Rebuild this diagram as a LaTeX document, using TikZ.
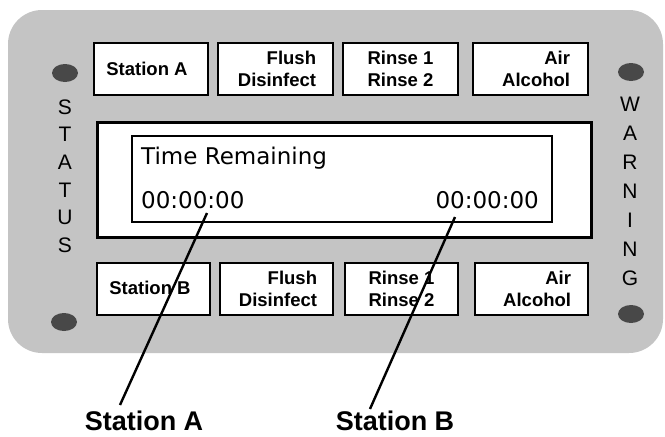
\documentclass[tikz,border=0pt]{standalone}
\usepackage{fontspec}
\setmainfont{Liberation Sans}
\newfontfamily\dvfont{DejaVu Sans}
\usetikzlibrary{shapes.geometric}
\definecolor{panelgray}{RGB}{196,196,196}
\definecolor{dotgray}{RGB}{72,72,72}
\begin{document}
\begin{tikzpicture}[x=1pt,y=-1pt,
  btn/.style={draw, line width=2.5pt, fill=white, minimum height=52pt, inner sep=0pt},
  btxt/.style={font=\fontsize{18.5}{22}\selectfont\bfseries, align=right, inner sep=0pt},
  ctxt/.style={font=\fontsize{18.5}{22}\selectfont\bfseries, align=center, inner sep=0pt},
  sideletter/.style={font=\fontsize{21}{21}\selectfont, inner sep=0pt},
  ledlamp/.style={ellipse, fill=dotgray, minimum width=26pt, minimum height=18pt, inner sep=0pt},
  lcd/.style={font=\dvfont\fontsize{23}{23}\selectfont, inner sep=0pt},
  caption/.style={font=\fontsize{27}{27}\selectfont\bfseries, inner sep=0pt},
  leader/.style={line width=2.4pt}]
\useasboundingbox (0,0) rectangle (665,437);
\fill[white] (0,0) rectangle (665,437);
% panel
\path[fill=panelgray, rounded corners=34pt] (8,10) rectangle (663,353);
% lamps
\node[ledlamp] (lt) at (65,73) {};
\node[ledlamp] (lb) at (64,322) {};
\node[ledlamp] (rt) at (631,72) {};
\node[ledlamp] (rb) at (631,314) {};
% side letters
\foreach \l [count=\i from 0] in {S,T,A,T,U,S}
  \node[sideletter] (st\i) at (65,{107+27.6*\i}) {\l};
\foreach \l [count=\i from 0] in {W,A,R,N,I,N,G}
  \node[sideletter] (wn\i) at (630,{104+29*\i}) {\l};
% top buttons
\node[btn, minimum width=114pt] (tA) at (151,69) {};
\node[btn, minimum width=115pt] (tF) at (275.5,69) {};
\node[btn, minimum width=115pt] (tR) at (400.5,69) {};
\node[btn, minimum width=115pt] (tW) at (530.5,69) {};
\node[ctxt] (tAt) at (147,69) {Station A};
\node[btxt, anchor=east] (tFt) at ([xshift=-18pt]tF.east) {Flush\\Disinfect};
\node[ctxt] (tRt) at (tR.center) {Rinse 1\\Rinse 2};
\node[btxt, anchor=east] (tWt) at ([xshift=-19pt]tW.east) {Air\\Alcohol};
% bottom buttons
\node[btn, minimum width=113pt] (bA) at (153.5,289) {};
\node[btn, minimum width=113pt] (bF) at (276.5,289) {};
\node[btn, minimum width=113pt] (bR) at (401.5,289) {};
\node[btn, minimum width=113pt] (bW) at (531.5,289) {};
\node[ctxt] (bAt) at (150,288) {Station B};
\node[btxt, anchor=east] (bFt) at ([xshift=-17pt]bF.east) {Flush\\Disinfect};
\node[ctxt] (bRt) at (bR.center) {Rinse 1\\Rinse 2};
\node[btxt, anchor=east] (bWt) at ([xshift=-18pt]bW.east) {Air\\Alcohol};
% display
\node[draw, line width=3pt, fill=white, minimum width=494pt, minimum height=115pt, inner sep=0pt] (outer) at (344,179.5) {};
\node[draw, line width=2pt, fill=white, minimum width=420pt, minimum height=86pt, inner sep=0pt] (inner) at (342,179) {};
\node[lcd, anchor=base west] (tr) at (141,164) {Time Remaining};
\node[lcd, anchor=base west] (ta) at (141,208) {00:00:00};
\node[lcd, anchor=base east] (tb) at (539,208) {00:00:00};
% captions
\node[caption, anchor=base] (capA) at (144,430) {Station A};
\node[caption, anchor=base] (capB) at (395,430) {Station B};
% leader lines
\coordinate (pA) at (207,213);
\coordinate (eA) at (120,405);
\coordinate (pB) at (455,217);
\coordinate (eB) at (370,409);
\draw[leader] (pA) -- (eA);
\draw[leader] (pB) -- (eB);
\end{tikzpicture}
\end{document}
